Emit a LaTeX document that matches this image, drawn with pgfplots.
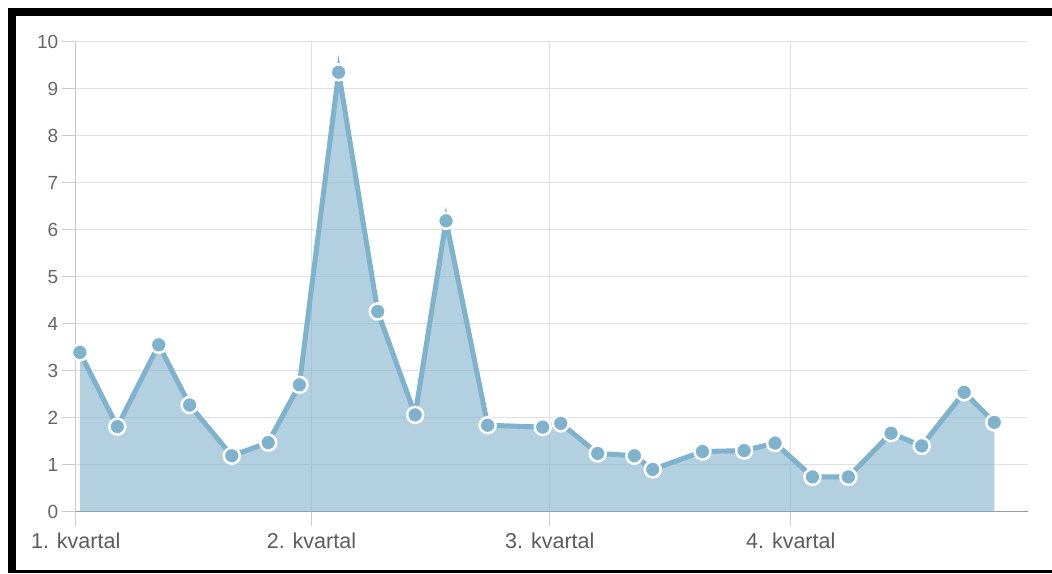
\documentclass[border=0pt]{standalone}
\usepackage{fontspec}
\setmainfont{Liberation Sans}
\usepackage{pgfplots}
\pgfplotsset{compat=1.18}
\definecolor{linec}{HTML}{7FB2CC}
\definecolor{gridc}{HTML}{E0E0E0}
\definecolor{textc}{HTML}{666666}
\pgfplotstableread{
day val
1.6 3.39
15.9 1.81
31.7 3.55
43.5 2.27
59.6 1.19
73.5 1.47
85.4 2.70
100.4 9.35
115.3 4.26
129.6 2.06
141.4 6.19
157.3 1.84
178.3 1.80
185.2 1.88
199.3 1.24
213.3 1.19
220.3 0.90
239.3 1.28
255.2 1.30
267.0 1.46
281.3 0.74
295.0 0.74
311.3 1.67
323.0 1.40
339.2 2.54
350.7 1.90
}\datatable
\begin{document}
\begin{tikzpicture}[x=1pt,y=1pt]
\path[use as bounding box] (0,0) rectangle (1052,573);
\fill[white] (0,0) rectangle (1052,573);
\begin{axis}[
  at={(75.7pt,61.3pt)}, anchor=south west,
  scale only axis, width=952.6pt, height=470pt,
  xmin=0, xmax=363.7, ymin=0, ymax=10,
  axis lines=left,
  x axis line style={-, draw=black!40, line width=1pt},
  y axis line style={-, draw=black!22, line width=1pt},
  xtick={0,90,181,273},
  xticklabels={1. kvartal,2. kvartal,3. kvartal,4. kvartal},
  ytick={0,1,...,10},
  grid=major,
  major grid style={draw=gridc, line width=1pt},
  tick align=outside,
  major tick length=14pt,
  tick style={draw=black!20, line width=1pt},
  /pgf/number format/assume math mode=true,
  yticklabel style={font=\fontsize{19}{20}\selectfont, text=textc},
  xticklabel style={font=\fontsize{21.5}{22}\selectfont, text=textc!90!black, yshift=-4pt},
  clip=false,
]
\addplot[draw=none, fill=linec, fill opacity=0.6] table[x=day,y=val] {\datatable} \closedcycle;
\addplot[draw=linec, line width=5pt, line join=miter,
  mark=*, mark size=8pt,
  mark options={fill=linec, draw=white, line width=2.5pt, solid}]
  table[x=day,y=val] {\datatable};
\end{axis}
\fill[black] (8,557) rectangle (1052,565);
\fill[black] (8,0) rectangle (16,565);
\fill[black] (8,0) rectangle (1052,3);
\end{tikzpicture}
\end{document}
